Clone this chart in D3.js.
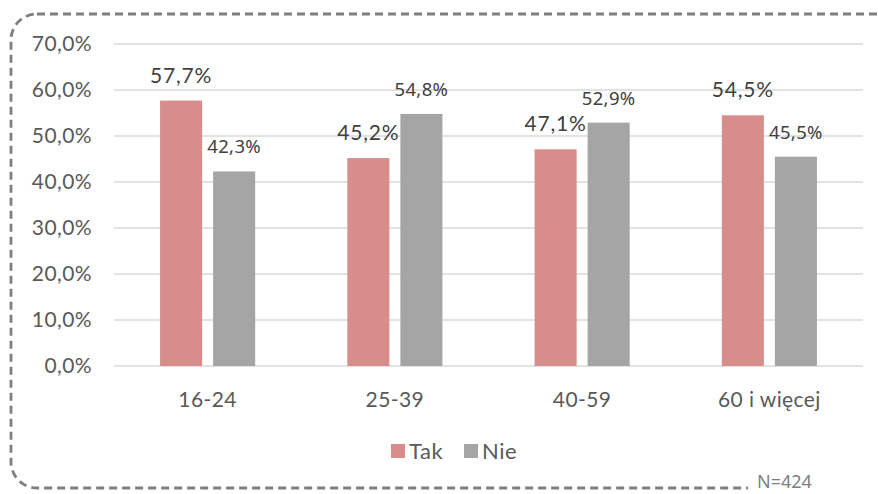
<!DOCTYPE html>
<html>
<head>
<meta charset="utf-8">
<script src="https://cdn.jsdelivr.net/npm/d3@7"></script>
<style>
  body { margin: 0; background: #fff; }
</style>
</head>
<body>
<div id="chart"></div>
<script>
// dane
const kategorie = ["16-24", "25-39", "40-59", "60 i więcej"];
const serie = ["Tak", "Nie"];
const tak = [57.7, 45.2, 47.1, 54.5];
const nie = [42.3, 54.8, 52.9, 45.5];
const yTicks = [0, 10, 20, 30, 40, 50, 60, 70];
const kolory = ["#d68d8b", "#a5a5a5"];
const podpis = "N=424";

const W = 878, H = 494;
const m = { left: 114, right: 15, top: 44, bottom: 128 };

const svg = d3.select("#chart").append("svg")
  .attr("width", W).attr("height", H);

// ramka przerywana
svg.append("rect")
  .attr("x", 11).attr("y", 14)
  .attr("width", 900).attr("height", 474)
  .attr("rx", 26).attr("ry", 26)
  .attr("fill", "none")
  .attr("stroke", "#7f7f7f")
  .attr("stroke-width", 2.8)
  .attr("stroke-dasharray", "8,5");

const x = d3.scaleBand().domain(kategorie)
  .range([m.left, W - m.right]);
const xs = d3.scaleBand().domain(serie)
  .range([0, x.bandwidth()]).paddingInner(0.2075).paddingOuter(0.868);
const y = d3.scaleLinear().domain([0, 70])
  .range([H - m.bottom, m.top]);

const fontTxt = "'Lato', 'DejaVu Sans', sans-serif";

// siatka
svg.append("g").selectAll("line").data(yTicks).enter().append("line")
  .attr("x1", m.left).attr("x2", W - m.right)
  .attr("y1", d => y(d)).attr("y2", d => y(d))
  .attr("stroke", "#d9d9d9").attr("stroke-width", 1.5);

// os Y
const yAxis = svg.append("g")
  .attr("transform", `translate(${m.left - 22},0)`)
  .call(d3.axisLeft(y).tickValues(yTicks)
    .tickFormat(d => d.toFixed(1).replace(".", ",") + "%").tickSize(0));
yAxis.select(".domain").remove();
yAxis.selectAll("text")
  .attr("font-family", fontTxt).attr("font-size", 21)
  .attr("letter-spacing", 0.4)
  .attr("fill", "#595959").attr("x", 0);

// os X
const xAxis = svg.append("g")
  .attr("transform", `translate(0,${y(0)})`)
  .call(d3.axisBottom(x).tickSize(0));
xAxis.select(".domain").remove();
xAxis.selectAll("text")
  .attr("font-family", fontTxt).attr("font-size", 21)
  .attr("letter-spacing", 0.4)
  .attr("fill", "#595959").attr("y", 0).attr("dy", 41);

const dane = kategorie.map((k, i) => ({ k, vals: [tak[i], nie[i]] }));

const grupy = svg.append("g").selectAll("g").data(dane).enter().append("g")
  .attr("transform", d => `translate(${x(d.k)},0)`);

grupy.selectAll("rect")
  .data(d => d.vals.map((v, j) => ({ s: serie[j], v, j })))
  .enter().append("rect")
  .attr("x", d => xs(d.s))
  .attr("width", xs.bandwidth())
  .attr("y", d => y(d.v))
  .attr("height", d => y(0) - y(d.v))
  .attr("fill", d => kolory[d.j]);

grupy.selectAll("text.lab")
  .data(d => d.vals.map((v, j) => ({ s: serie[j], v, j })))
  .enter().append("text")
  .attr("class", "lab")
  .attr("x", d => xs(d.s) + xs.bandwidth() / 2)
  .attr("y", d => y(d.v) - 18)
  .attr("text-anchor", "middle")
  .attr("font-family", d => d.j === 0 ? fontTxt : "'Noto Sans', sans-serif")
  .attr("font-size", d => d.j === 0 ? 21 : 18.5)
  .attr("letter-spacing", d => d.j === 0 ? 0.8 : 0.3)
  .attr("fill", "#404040")
  .text(d => d.v.toFixed(1).replace(".", ",") + "%");

// legenda
const leg = svg.append("g").attr("transform", "translate(391,444)");
const legX = [0, 73];
serie.forEach((s, i) => {
  leg.append("rect").attr("x", legX[i]).attr("y", 0)
    .attr("width", 14).attr("height", 14).attr("fill", kolory[i]);
  leg.append("text").attr("x", legX[i] + 18).attr("y", 15)
    .attr("font-family", fontTxt).attr("font-size", 22)
    .attr("letter-spacing", 0.6)
    .attr("fill", "#595959").text(s);
});

// N=424
svg.append("rect").attr("x", 748).attr("y", 470).attr("width", 130).attr("height", 24)
  .attr("fill", "#fff");
svg.append("text").attr("x", 757).attr("y", 488)
  .attr("font-family", "'Noto Sans', sans-serif").attr("font-size", 18)
  .attr("fill", "#7f7f7f").text(podpis);
</script>
</body>
</html>
